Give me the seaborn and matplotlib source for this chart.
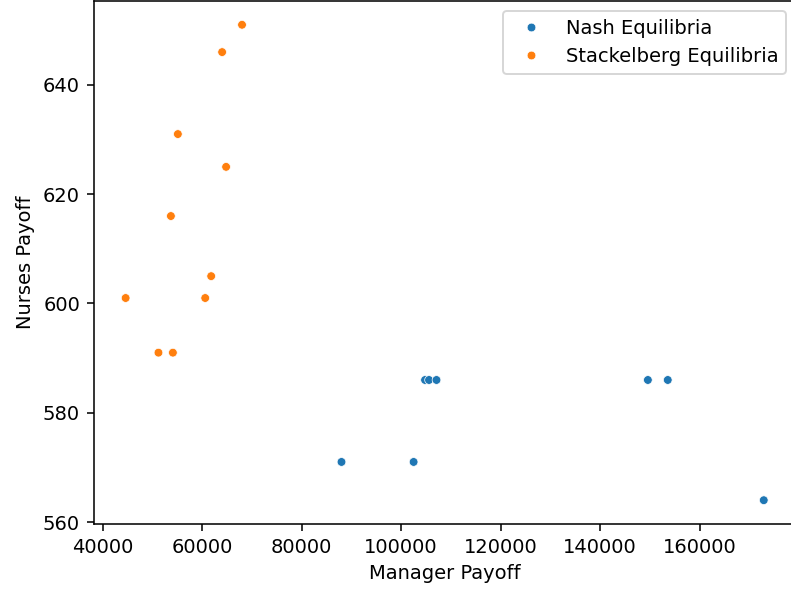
import matplotlib
matplotlib.use("Agg")
import matplotlib.pyplot as plt
import seaborn as sns
import pandas as pd

# Payoff pairs for each equilibrium type
nash_manager = [88000, 102500, 104800, 105600, 107100, 149600, 153600, 172900]
nash_nurses = [571, 571, 586, 586, 586, 586, 586, 564]

stack_manager = [68000, 64000, 55100, 64800, 53700, 61800, 44600, 60600, 51200, 54100]
stack_nurses = [651, 646, 631, 625, 616, 605, 601, 601, 591, 591]

df = pd.DataFrame({
    "Manager Payoff": nash_manager + stack_manager,
    "Nurses Payoff": nash_nurses + stack_nurses,
    "Type": ["Nash Equilibria"] * len(nash_manager)
            + ["Stackelberg Equilibria"] * len(stack_manager),
})

dpi = 140
fig = plt.figure(figsize=(791 / dpi, 592 / dpi), dpi=dpi)
ax = fig.add_axes([0.1185, 0.1149, 0.8874, 0.8834])

sns.scatterplot(data=df, x="Manager Payoff", y="Nurses Payoff", hue="Type",
                s=20, ax=ax)
ax.legend(loc="upper right")
ax.spines["right"].set_visible(False)

fig.savefig("out.png", dpi=dpi)
